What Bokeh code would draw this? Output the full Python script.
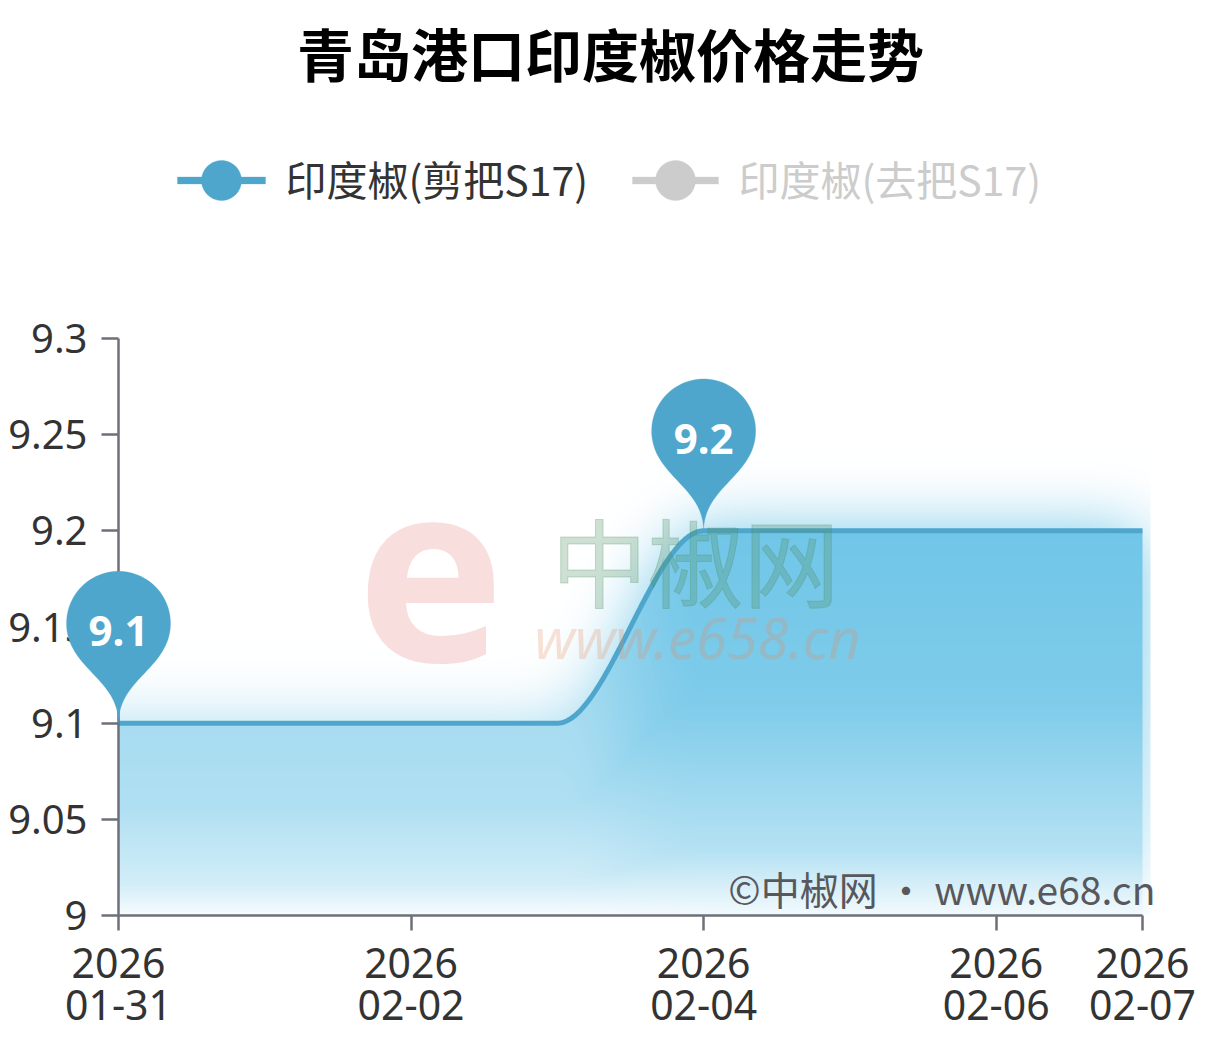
import numpy as np
import pandas as pd
from bokeh.plotting import figure
from bokeh.models import FixedTicker, Label, PolyAnnotation, BoxAnnotation, Range1d
from bokeh.embed import file_html
from bokeh.resources import INLINE

# ---------------- data ----------------
TITLE = "青岛港口印度椒价格走势"
SERIES_NAMES = ["印度椒(剪把S17)", "印度椒(去把S17)"]
DATES = ["2026-01-31", "2026-02-01", "2026-02-02", "2026-02-03",
         "2026-02-04", "2026-02-05", "2026-02-06", "2026-02-07"]
PRICE_CUT = [9.1, 9.1, 9.1, 9.1, 9.2, 9.2, 9.2, 9.2]
X_TICK_DATES = ["2026-01-31", "2026-02-02", "2026-02-04", "2026-02-06", "2026-02-07"]
Y_TICKS = [9.0, 9.05, 9.1, 9.15, 9.2, 9.25, 9.3]
Y_TICK_LABELS = ["9", "9.05", "9.1", "9.15", "9.2", "9.25", "9.3"]
WATERMARK_LOGO = "e"
WATERMARK_NAME = "中椒网"
WATERMARK_URL = "www.e658.cn"
COPYRIGHT = "©中椒网 · www.e68.cn"

# ---------------- layout ----------------
FIG_W, FIG_H = 1210, 1053
AX_X, AX_TOP = 118, 338          # page position of the y axis and of its top
FH = 577                          # plot-area height (9.0 .. 9.3)
AX_BOTTOM = AX_TOP + FH           # 915
FW = 1032
Y0, Y1 = Y_TICKS[0], Y_TICKS[-1]
YPX = FH / (Y1 - Y0)

d0 = pd.to_datetime(DATES[0])
x_days = np.array([(pd.to_datetime(d) - d0) / pd.Timedelta(days=1) for d in DATES], dtype=float)
y_vals = np.array(PRICE_CUT, dtype=float)
DAY_PX = 1024.0 / x_days[-1]
X_END = FW / DAY_PX

def key(v):
    return int(v) if float(v).is_integer() else float(v)

x_ticks = [key((pd.to_datetime(d) - d0) / pd.Timedelta(days=1)) for d in X_TICK_DATES]
x_tick_labels = {t: pd.to_datetime(d).strftime("%Y\n%m-%d") for t, d in zip(x_ticks, X_TICK_DATES)}
y_tick_labels = {key(v): s for v, s in zip(Y_TICKS, Y_TICK_LABELS)}

# page pixel -> data helpers (for text/legend placement only)
def PX(xp):
    return (np.asarray(xp, dtype=float) - AX_X) / DAY_PX

def PY(yp):
    return Y0 + (AX_BOTTOM - np.asarray(yp, dtype=float)) / YPX

# monotone cubic (smooth line rendering)
def mono(xk, yk, x):
    n = len(xk)
    h = np.diff(xk)
    d = np.diff(yk) / h
    m = np.zeros(n)
    m[0], m[-1] = d[0], d[-1]
    for k in range(1, n - 1):
        if d[k - 1] * d[k] <= 0:
            m[k] = 0.0
        else:
            w1 = 2 * h[k] + h[k - 1]
            w2 = h[k] + 2 * h[k - 1]
            m[k] = (w1 + w2) / (w1 / d[k - 1] + w2 / d[k])
    x = np.asarray(x, dtype=float)
    i = np.clip(np.searchsorted(xk, x) - 1, 0, n - 2)
    t = (x - xk[i]) / h[i]
    h00 = 2 * t**3 - 3 * t**2 + 1
    h10 = t**3 - 2 * t**2 + t
    h01 = -2 * t**3 + 3 * t**2
    h11 = t**3 - t**2
    return h00 * yk[i] + h10 * h[i] * m[i] + h01 * yk[i + 1] + h11 * h[i] * m[i + 1]

# ---------------- area fill image (gradient + glow) ----------------
def gblur(a, s):
    r = int(3 * s)
    k = np.exp(-0.5 * (np.arange(-r, r + 1) / s) ** 2)
    k /= k.sum()
    a = np.apply_along_axis(lambda v: np.convolve(v, k, mode="same"), 0, a)
    a = np.apply_along_axis(lambda v: np.convolve(v, k, mode="same"), 1, a)
    return a

P = 110
cols = np.arange(-P, FW + P)
rows = np.arange(-P, FH + P)
xc = (cols + 0.5) / DAY_PX
valid = xc <= x_days[-1]
yc = mono(x_days, y_vals, np.clip(xc, x_days[0], x_days[-1]))
yb = Y0 + rows / YPX
ycen = Y0 + (rows + 0.5) / YPX
M = np.clip((yc[None, :] - yb[:, None]) * YPX, 0, 1)
M[rows < 0, :] = 0
M[:, ~valid] = 0
ymax = y_vals.max()
A = np.clip((yc - Y0) / (ymax - Y0), 0, 1) ** 0.7
frac = np.clip((yc[None, :] - ycen[:, None]) / (yc[None, :] - Y0), 0, 1)
g = np.interp(frac, [0, 0.44, 0.83, 1.0], [0.97, 0.88, 0.51, 0.08])
a_in = M * A[None, :] * g
glow = np.clip(gblur(a_in, 32) * 1.0, 0, 1)
a_out = glow * (1 - M)
alpha = 1 - (1 - a_in) * (1 - a_out)
alpha = alpha[P:P + FH, P:P + FW]

img = np.zeros((FH, FW), dtype=np.uint32)
view = img.view(dtype=np.uint8).reshape((FH, FW, 4))
view[..., 0] = 108
view[..., 1] = 196
view[..., 2] = 231
view[..., 3] = np.clip(alpha * 255, 0, 255).astype(np.uint8)

# ---------------- figure ----------------
LINE_C = "#4ea6cd"
AXIS_C = "#6e7079"

p = figure(width=FIG_W, height=FIG_H, output_backend="svg", toolbar_location=None,
           x_range=Range1d(-AX_X / DAY_PX, (FIG_W - AX_X) / DAY_PX),
           y_range=Range1d(Y0 - (FIG_H - AX_BOTTOM) / YPX, Y0 + AX_BOTTOM / YPX),
           min_border_left=0, min_border_right=0, min_border_top=0, min_border_bottom=0)
p.outline_line_color = None
p.xgrid.visible = False
p.ygrid.visible = False
p.background_fill_color = "white"
p.border_fill_color = "white"

p.image_rgba(image=[img], x=0, y=Y0, dw=X_END, dh=Y1 - Y0)

xs_line = np.linspace(x_days[0], x_days[-1], 600)
p.line(xs_line, mono(x_days, y_vals, xs_line), line_color=LINE_C, line_width=5)

for ax in (p.xaxis[0], p.yaxis[0]):
    ax.axis_line_color = AXIS_C
    ax.axis_line_width = 2.5
    ax.major_tick_line_color = AXIS_C
    ax.major_tick_line_width = 2.5
    ax.major_tick_in = 0
    ax.minor_tick_in = 0
    ax.minor_tick_out = 0
    ax.major_label_text_font = "Noto Sans"
    ax.major_label_text_color = "#333333"

p.yaxis.ticker = FixedTicker(ticks=Y_TICKS)
p.yaxis.major_label_overrides = y_tick_labels
p.yaxis.major_tick_out = 17
p.yaxis.major_label_standoff = 14
p.yaxis.major_label_text_font_size = "40px"
p.yaxis.fixed_location = 0
p.yaxis.bounds = (Y0, Y1)

p.xaxis.ticker = FixedTicker(ticks=x_ticks)
p.xaxis.major_label_overrides = x_tick_labels
p.xaxis.major_tick_out = 15
p.xaxis.major_label_standoff = 3
p.xaxis.major_label_text_font_size = "41px"
p.xaxis.major_label_text_line_height = 0.75
p.xaxis.fixed_location = Y0
p.xaxis.bounds = (x_days[0], x_days[-1])

# ---------------- watermark (behind pins/labels) ----------------
p.add_layout(Label(x=float(PX(697)), y=float(PY(636)), text=WATERMARK_URL, text_align="center",
                   text_baseline="middle", text_font="Noto Sans", text_font_style="italic",
                   text_font_size="56px", text_color="#e8875a", text_alpha=0.25))
p.add_layout(Label(x=float(PX(430)), y=float(PY(572)), text=WATERMARK_LOGO, text_align="center",
                   text_baseline="middle", text_font="Noto Sans", text_font_style="bold",
                   text_font_size="250px", text_color="#e05a5a", text_alpha=0.2))
p.add_layout(Label(x=float(PX(695)), y=float(PY(558)), text=WATERMARK_NAME, text_align="center",
                   text_baseline="middle", text_font="Noto Sans CJK SC",
                   text_font_size="96px", text_color="#4f8f60", text_alpha=0.28,
                   text_outline_color="#4f8f60"))

# ---------------- pins (max / min) ----------------
def pin_shape(w=104.0, h=174.0):
    r = w / 2
    dy = r * r / (h - r)
    cy = -h + r + dy
    ang = np.arcsin(dy / r)
    dx = np.cos(ang) * r
    tx, ty = np.sin(ang), np.cos(ang)
    cp1, cp2 = r * 0.6, r * 0.7
    pts = []
    for a in np.linspace(np.pi - ang, 2 * np.pi + ang, 60):
        pts.append((r * np.cos(a), cy + r * np.sin(a)))

    def bez(p0, c1, c2, p3, n=30):
        out = []
        for t in np.linspace(0, 1, n)[1:]:
            u = 1 - t
            out.append((u**3 * p0[0] + 3 * u * u * t * c1[0] + 3 * u * t * t * c2[0] + t**3 * p3[0],
                        u**3 * p0[1] + 3 * u * u * t * c1[1] + 3 * u * t * t * c2[1] + t**3 * p3[1]))
        return out
    pts += bez((dx, cy + dy), (dx - tx * cp1, cy + dy + ty * cp1), (0, -cp2), (0, 0))
    pts += bez((0, 0), (0, -cp2), (-dx + tx * cp1, cy + dy + ty * cp1), (-dx, cy + dy))
    return np.array(pts)

shape = pin_shape()
for idx in (int(np.argmax(y_vals)), int(np.argmin(y_vals))):
    xp, yp = float(x_days[idx]), float(y_vals[idx])
    xs = [float(v) for v in xp + shape[:, 0] / DAY_PX]
    ys = [float(v) for v in yp - shape[:, 1] / YPX]
    p.add_layout(PolyAnnotation(xs=xs, ys=ys, fill_color=LINE_C, fill_alpha=1.0,
                                line_color=LINE_C, line_width=1))
    p.add_layout(Label(x=xp, y=yp + 92 / YPX, text=f"{yp:g}", text_align="center",
                       text_baseline="middle", text_font="Noto Sans", text_font_style="bold",
                       text_font_size="42px", text_color="white"))

# ---------------- title ----------------
p.add_layout(Label(x=float(PX(610)), y=float(PY(51)), text=TITLE, text_align="center",
                   text_baseline="middle", text_font="Noto Sans CJK SC", text_font_style="bold",
                   text_font_size="57px", text_color="#000000"))

# ---------------- legend ----------------
LEG = [(SERIES_NAMES[0], LINE_C, "#333333", 177, 265, 221, 285),
       (SERIES_NAMES[1], "#cccccc", "#cccccc", 632, 718, 675, 738)]
th = np.linspace(0, 2 * np.pi, 48)
for name, col, tcol, l0, l1, cx, tx in LEG:
    p.add_layout(Label(x=float(PX(tx)), y=float(PY(177)), text=name, text_align="left",
                       text_baseline="middle", text_font="Noto Sans CJK SC",
                       text_font_size="41px", text_color=tcol))
    p.add_layout(BoxAnnotation(left=float(PX(l0)), right=float(PX(l1)),
                               bottom=float(PY(183.5)), top=float(PY(176.5)),
                               fill_color=col, fill_alpha=1.0, line_color=col, line_width=1))
    p.add_layout(PolyAnnotation(xs=[float(v) for v in PX(cx + 20 * np.cos(th))],
                                ys=[float(v) for v in PY(180 + 20 * np.sin(th))],
                                fill_color=col, fill_alpha=1.0, line_color=col, line_width=1))

# ---------------- copyright ----------------
p.add_layout(Label(x=float(PX(1155)), y=float(PY(887)), text=COPYRIGHT, text_align="right",
                   text_baseline="middle", text_font="Noto Sans CJK SC",
                   text_font_size="39px", text_color="#58585c"))

open("out.html", "w").write(file_html(p, INLINE))
